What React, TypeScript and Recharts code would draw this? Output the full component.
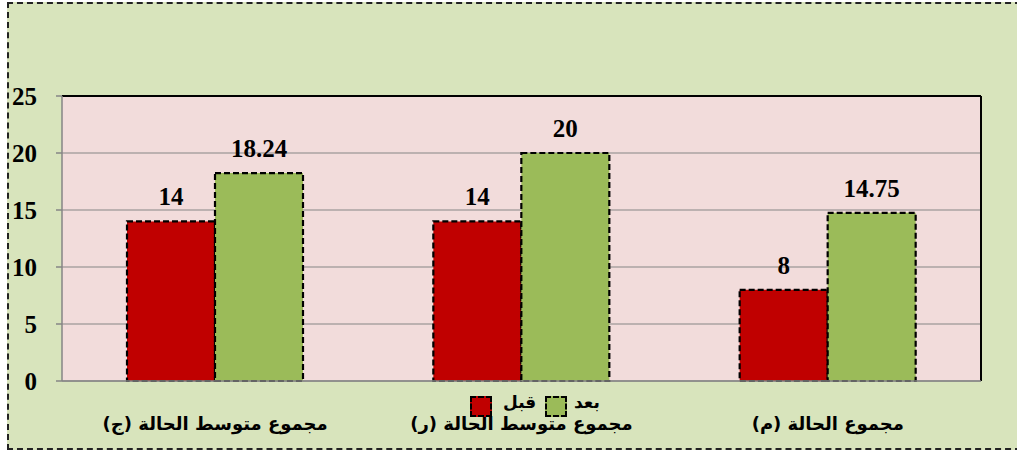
import type { FC } from 'react';
import {
  BarChart,
  Bar,
  XAxis,
  YAxis,
  CartesianGrid,
  LabelList,
  ReferenceLine,
} from 'recharts';

// categories, left to right as drawn
const categories = [
  'مجموع متوسط الحالة (ج)',
  'مجموع متوسط الحالة (ر)',
  'مجموع الحالة (م)',
];
const before = [14, 14, 8]; // قبل
const after = [18.24, 20, 14.75]; // بعد
const yTicks = [0, 5, 10, 15, 20, 25];

const chartData = categories.map((name, i) => ({
  name,
  idx: i + 0.5,
  before: before[i],
  after: after[i],
}));

const RED = '#c00000';
const GREEN = '#9bbb59';
const serif = '"Liberation Serif", "Times New Roman", serif';
const arabic = '"DejaVu Sans", "Liberation Sans", sans-serif';

const swatch = (color: string, left: number) => (
  <span
    style={{
      position: 'absolute',
      left,
      top: 0,
      width: 22,
      height: 21,
      background: color,
      border: '2px dashed #000',
      boxSizing: 'border-box',
    }}
  />
);

const legendText = (text: string, left: number) => (
  <span
    style={{
      position: 'absolute',
      left,
      top: -4,
      fontFamily: arabic,
      fontWeight: 'bold',
      fontSize: 17,
      color: '#000',
      whiteSpace: 'nowrap',
    }}
  >
    {text}
  </span>
);

const LegendBox: FC = () => (
  <div style={{ position: 'absolute', left: 470, top: 396, width: 140, height: 22 }}>
    {swatch(RED, 0)}
    {legendText('قبل', 33)}
    {swatch(GREEN, 75)}
    {legendText('بعد', 104)}
  </div>
);

export default function App() {
  return (
    <div style={{ position: 'fixed', left: 0, top: 0, width: 1017, height: 451, background: '#fff' }}>
      <div
        style={{
          position: 'absolute',
          left: 7,
          top: 2,
          width: 1030,
          height: 444,
          border: '2px dashed #222',
          background: '#d8e4bc',
        }}
      />
      <div style={{ position: 'absolute', left: 0, top: 0 }}>
        <BarChart
          width={1017}
          height={451}
          data={chartData}
          margin={{ top: 96, right: 36, bottom: 6, left: 4 }}
          barCategoryGap={65}
          barGap={0}
        >
          <CartesianGrid
            vertical={false}
            stroke="#868686"
            strokeWidth={1.2}
            fill="#f2dcdb"
            fillOpacity={1}
          />
          <XAxis
            dataKey="name"
            xAxisId="cat"
            height={64}
            axisLine={{ stroke: '#868686', strokeWidth: 1.5 }}
            tickLine={false}
            interval={0}
            tick={{ fontFamily: arabic, fontWeight: 'bold', fontSize: 18, fill: '#000', dy: 28 }}
          />
          <XAxis
            xAxisId="edge"
            type="number"
            dataKey="idx"
            domain={[0, 3]}
            ticks={[0, 1, 2, 3]}
            height={0}
            axisLine={false}
            tick={false}
            tickLine={{ stroke: '#868686', strokeWidth: 1.5 }}
            tickSize={6}
          />
          <YAxis
            width={58}
            domain={[0, 25]}
            ticks={yTicks}
            axisLine={{ stroke: '#868686', strokeWidth: 1.5 }}
            tickLine={{ stroke: '#868686', strokeWidth: 1.5 }}
            tickSize={6}
            tickMargin={19}
            tick={{ fontFamily: serif, fontWeight: 'bold', fontSize: 25, fill: '#000' }}
          />
          <ReferenceLine xAxisId="cat" y={25} stroke="#000" strokeWidth={2} />
          <ReferenceLine xAxisId="edge" x={3} stroke="#000" strokeWidth={2} />
          <Bar
            xAxisId="cat"
            dataKey="before"
            name="قبل"
            fill={RED}
            stroke="#000"
            strokeWidth={2.2}
            strokeDasharray="6 3"
            isAnimationActive={false}
          >
            <LabelList
              dataKey="before"
              position="top"
              offset={16}
              style={{ fontFamily: serif, fontWeight: 'bold', fontSize: 25, fill: '#000' }}
            />
          </Bar>
          <Bar
            xAxisId="cat"
            dataKey="after"
            name="بعد"
            fill={GREEN}
            stroke="#000"
            strokeWidth={2.2}
            strokeDasharray="6 3"
            isAnimationActive={false}
          >
            <LabelList
              dataKey="after"
              position="top"
              offset={16}
              style={{ fontFamily: serif, fontWeight: 'bold', fontSize: 25, fill: '#000' }}
            />
          </Bar>
        </BarChart>
      </div>
      <LegendBox />
    </div>
  );
}
